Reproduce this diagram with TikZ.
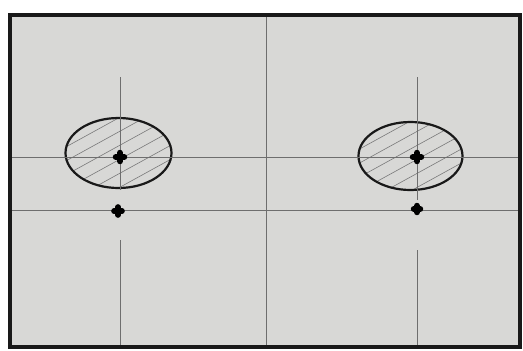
\documentclass[tikz,border=0pt]{standalone}
\usetikzlibrary{shapes.geometric}
\definecolor{paper}{HTML}{D8D8D6}
\definecolor{guide}{HTML}{6E6E6E}
\definecolor{hatchc}{HTML}{7A7A7A}
\tikzset{
  guideline/.style={draw=guide, line width=0.6pt},
  frameline/.style={draw=black!90, line width=3.6pt},
  hole/.style={ellipse, draw=black!90, line width=2.2pt, inner sep=0pt,
    minimum width=106pt, minimum height=70pt,
    path picture={
      \foreach \c in {-77,-63,...,84}
        \draw[hatchc, line width=0.6pt]
          ([shift={(-60pt,\c pt-33pt)}]path picture bounding box.center)
          -- ++(120pt,66pt);
    }},
  plusmark/.style={draw=black, line width=5.6pt, line cap=round}
}
\begin{document}
\begin{tikzpicture}[x=1pt,y=-1pt]
\useasboundingbox (0,0) rectangle (523,351);
\fill[white] (0,0) rectangle (523,351);
\fill[paper] (10,15) rectangle (520,347);
% guide coordinates
\coordinate (cTop) at (266,15);
\coordinate (cBot) at (266,345);
\coordinate (h1L) at (10,157);
\coordinate (h1R) at (520,157);
\coordinate (h2L) at (10,210);
\coordinate (h2R) at (520,210);
\coordinate (lvTop) at (120,77);
\coordinate (lvMid) at (120,190);
\coordinate (lvLow) at (120,240);
\coordinate (lvBot) at (120,345);
\coordinate (rvTop) at (417,77);
\coordinate (rvMid) at (417,200);
\coordinate (rvLow) at (417,250);
\coordinate (rvBot) at (417,345);
% guides
\draw[guideline] (cTop) -- (cBot);
\draw[guideline] (h1L) -- (h1R);
\draw[guideline] (h2L) -- (h2R);
\draw[guideline] (lvLow) -- (lvBot);
\draw[guideline] (rvLow) -- (rvBot);
% holes
\node[hole] (holeL) at (118.5,153) {};
\node[hole, minimum width=104pt, minimum height=68pt] (holeR) at (410.5,156) {};
\draw[guideline] (lvTop) -- (lvMid);
\draw[guideline] (rvTop) -- (rvMid);
\draw[guideline] (h1L) -- (h1R);
% plus marks
\coordinate (pL1) at (120,157);
\coordinate (pL2) at (118,211);
\coordinate (pR1) at (417,157);
\coordinate (pR2) at (417,209);
\foreach \p/\s in {pL1/4.4, pL2/4.0, pR1/4.4, pR2/3.4}
  \draw[plusmark] ([xshift=-\s pt]\p) -- ([xshift=\s pt]\p)
                  ([yshift=-\s pt]\p) -- ([yshift=\s pt]\p);
% frame
\draw[frameline] (10,15) rectangle (520,347);
\end{tikzpicture}
\end{document}
